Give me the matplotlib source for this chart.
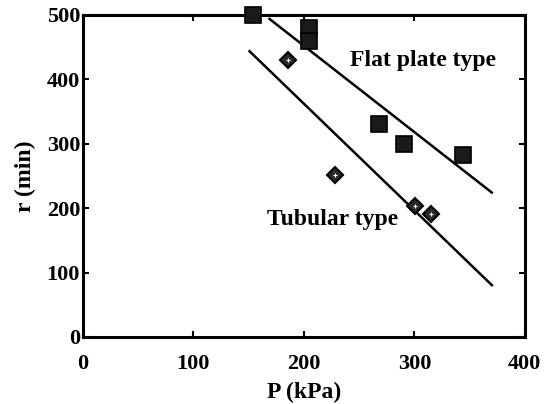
import matplotlib
matplotlib.use("Agg")
import matplotlib.pyplot as plt

flat_p = [154, 205, 205, 268, 291, 344]
flat_r = [500, 479, 460, 331, 300, 283]
tube_p = [186, 228, 301, 315]
tube_r = [430, 252, 203, 191]

# Fitted lines (end points)
flat_fit_p = [168, 371]
flat_fit_r = [495, 223]
tube_fit_p = [150, 371]
tube_fit_r = [445, 79]

plt.rcParams["font.family"] = "Liberation Serif"
plt.rcParams["font.weight"] = "bold"

fig = plt.figure(figsize=(5.49, 4.04), dpi=100)
ax = fig.add_axes([0.151, 0.166, 0.805, 0.797])

ax.plot(flat_fit_p, flat_fit_r, color="black", lw=1.8, solid_capstyle="butt")
ax.plot(tube_fit_p, tube_fit_r, color="black", lw=1.8, solid_capstyle="butt")

ax.plot(flat_p, flat_r, "s", ms=11, mfc="#1a1a1a", mec="black", mew=1.2,
        clip_on=False, zorder=5)
ax.plot(tube_p, tube_r, "D", ms=8, mfc="#2a2a2a", mec="black", mew=1.5,
        clip_on=False, zorder=5)
ax.plot(tube_p, tube_r, "+", ms=3, mec="white", mew=0.8, zorder=6)

ax.text(308, 430, "Flat plate type", ha="center", va="center",
        fontsize=17, fontweight="bold")
ax.text(226, 182, "Tubular type", ha="center", va="center",
        fontsize=17, fontweight="bold")

ax.set_xlim(0, 400)
ax.set_ylim(0, 500)
ax.set_xticks([0, 100, 200, 300, 400])
ax.set_yticks([0, 100, 200, 300, 400, 500])
ax.tick_params(direction="in", top=True, right=True, length=4, width=1.5,
               labelsize=16)
ax.tick_params(axis="x", pad=12)
ax.tick_params(axis="y", pad=2)
for lbl in ax.get_xticklabels() + ax.get_yticklabels():
    lbl.set_fontweight("bold")
for s in ax.spines.values():
    s.set_linewidth(2.2)

ax.set_xlabel("P (kPa)", fontsize=17, fontweight="bold", labelpad=6)
ax.set_ylabel("r (min)", fontsize=17, fontweight="bold", labelpad=8)

fig.savefig("out.png", dpi=100)
